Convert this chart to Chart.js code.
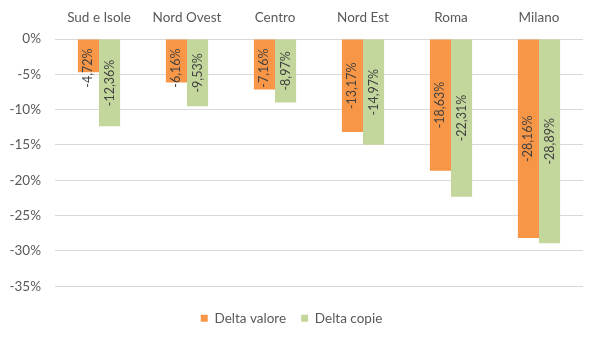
<!DOCTYPE html>
<html>
<head>
    <script src="https://cdn.jsdelivr.net/npm/chart.js@4"></script>
    <style>
        body { margin: 0; background: #fff; }
        #wrap { width: 600px; height: 342px; }
    </style>
</head>
<body>
<div id="wrap"><canvas id="barChart" width="600" height="342"></canvas></div>
<script>
    // Categories and series
    const regions = ['Sud e Isole', 'Nord Ovest', 'Centro', 'Nord Est', 'Roma', 'Milano'];
    const deltaValore = [-4.72, -6.16, -7.16, -13.17, -18.63, -28.16];
    const deltaCopie = [-12.36, -9.53, -8.97, -14.97, -22.31, -28.89];

    const FONT = 'Lato, "Open Sans", sans-serif';
    const fmt = v => v.toFixed(2).replace('.', ',') + '%';

    // Rotated value labels inside each bar, centred but kept below the zero line
    const barLabels = {
        id: 'barLabels',
        afterDatasetsDraw(chart) {
            const ctx = chart.ctx;
            ctx.save();
            ctx.font = '12.5px ' + FONT;
            ctx.fillStyle = '#404040';
            ctx.textAlign = 'center';
            ctx.textBaseline = 'middle';
            chart.data.datasets.forEach((ds, i) => {
                chart.getDatasetMeta(i).data.forEach((bar, j) => {
                    const text = fmt(ds.data[j]);
                    const w = ctx.measureText(text).width;
                    let cy = (bar.base + bar.y) / 2;
                    cy = Math.max(cy, bar.base + 9 + w / 2);
                    ctx.save();
                    ctx.translate(bar.x, cy);
                    ctx.rotate(-Math.PI / 2);
                    ctx.fillText(text, 0, 0);
                    ctx.restore();
                });
            });
            ctx.restore();
        }
    };

    new Chart(document.getElementById('barChart').getContext('2d'), {
        type: 'bar',
        data: {
            labels: regions,
            datasets: [{
                label: 'Delta valore',
                data: deltaValore,
                backgroundColor: '#F79646'
            }, {
                label: 'Delta copie',
                data: deltaCopie,
                backgroundColor: '#C3D69B'
            }]
        },
        options: {
            responsive: false,
            animation: false,
            layout: { padding: { left: 0, right: 17, top: 0, bottom: 7 } },
            datasets: { bar: { categoryPercentage: 0.48, barPercentage: 1 } },
            plugins: {
                legend: {
                    position: 'bottom',
                    title: { display: true, text: ' ', font: { size: 1 }, padding: { top: 9, bottom: 0 } },
                    labels: {
                        color: '#595959',
                        font: { family: FONT, size: 13.5 },
                        boxWidth: 7,
                        boxHeight: 7,
                        padding: 15
                    }
                },
                tooltip: { enabled: false }
            },
            scales: {
                x: {
                    position: 'top',
                    grid: { display: false },
                    border: { display: false },
                    ticks: { color: '#595959', font: { family: FONT, size: 13.5 }, padding: 5 },
                    afterFit(axis) { axis.height = 39; }
                },
                y: {
                    min: -35,
                    max: 0,
                    ticks: {
                        stepSize: 5,
                        color: '#595959',
                        font: { family: FONT, size: 13.5 },
                        padding: 14,
                        callback: v => v + '%'
                    },
                    grid: { color: '#D9D9D9', drawTicks: false },
                    border: { display: false },
                    afterFit(axis) { axis.width = 55; }
                }
            }
        },
        plugins: [barLabels]
    });
</script>
</body>
</html>
